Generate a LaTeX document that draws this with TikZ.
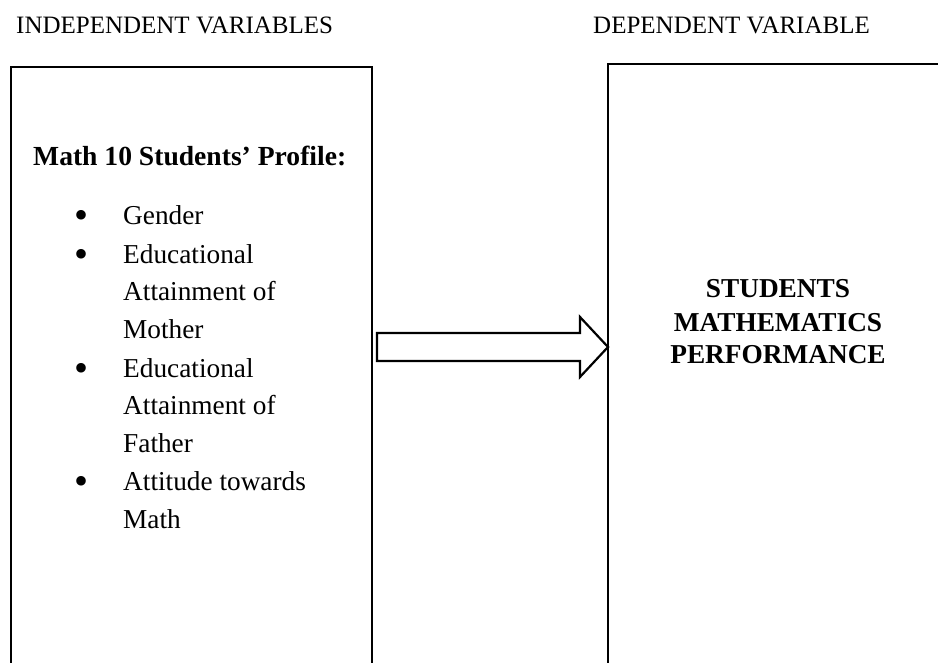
\documentclass[tikz,border=0pt]{standalone}
\usepackage{fontspec}
\setmainfont{LiberationSerif}[Extension=.ttf,UprightFont=*-Regular,BoldFont=*-Bold,ItalicFont=*-Italic,BoldItalicFont=*-BoldItalic]
\begin{document}
\begin{tikzpicture}[x=1pt,y=-1pt,
  frame/.style={draw=black,line width=2.6pt},
  hdr/.style={inner sep=0pt,anchor=base west,font=\fontsize{25}{30}\selectfont},
  txt/.style={inner sep=0pt,anchor=base west,font=\fontsize{27.3}{38}\selectfont},
  btxt/.style={inner sep=0pt,anchor=base west,font=\fontsize{27.6}{38}\selectfont\bfseries},
  bul/.style={inner sep=0pt,anchor=base,font=\fontsize{40}{38}\selectfont},
  rtxt/.style={inner sep=0pt,anchor=base,font=\fontsize{27.3}{33}\selectfont\bfseries},
  blockarrow/.style={draw=black,line width=2.2pt,fill=white,line join=miter}]
\useasboundingbox (0,0) rectangle (938,662);
\clip (0,0) rectangle (938,662);
\fill[white] (0,0) rectangle (938,662);
% headers
\node[hdr] (h1) at (16,33) {INDEPENDENT VARIABLES};
\node[hdr] (h2) at (593,33) {DEPENDENT VARIABLE};
% boxes
\draw[frame] (11,67) rectangle (372,700);
\draw[frame] (608,64) rectangle (980,700);
\coordinate (L) at (372,347);
\coordinate (R) at (608,347);
% left box content
\node[btxt] (title) at (33,165) {Math 10 Students’ Profile:};
\node[bul] (b1) at (82,228) {•};
\node[txt] (t1) at (123,224) {Gender};
\node[bul] (b2) at (82,267) {•};
\node[txt] (t2) at (123,263) {Educational};
\node[txt] (t3) at (123,300) {Attainment of};
\node[txt] (t4) at (123,338) {Mother};
\node[bul] (b3) at (82,381) {•};
\node[txt] (t5) at (123,377) {Educational};
\node[txt] (t6) at (123,414) {Attainment of};
\node[txt] (t7) at (123,452) {Father};
\node[bul] (b4) at (82,494) {•};
\node[txt] (t8) at (123,490) {Attitude towards};
\node[txt] (t9) at (123,528) {Math};
% right box content
\node[rtxt] (r1) at (778,297) {STUDENTS};
\node[rtxt] (r2) at (778,331) {MATHEMATICS};
\node[rtxt] (r3) at (778,363) {PERFORMANCE};
% block arrow
\draw[blockarrow] ([xshift=5pt]L) ++(0,-14) -- ++(203,0) -- ++(0,-16) -- (R) -- ++(-28,30) -- ++(0,-16) -- ++(-203,0) -- cycle;
\end{tikzpicture}
\end{document}
